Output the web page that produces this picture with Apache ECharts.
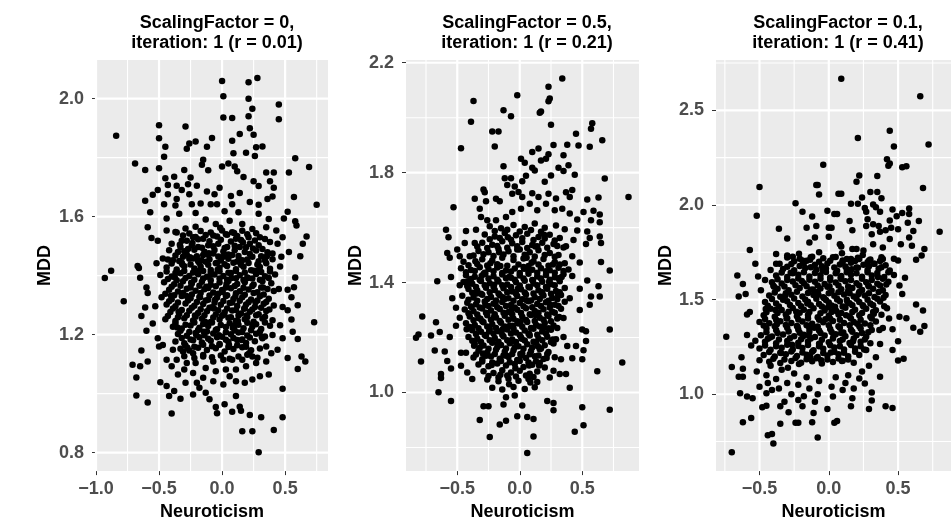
<!DOCTYPE html>
<html>
<head>
<meta charset="utf-8">
<script src="https://cdn.jsdelivr.net/npm/echarts@6/dist/echarts.min.js"></script>
<style>
  html, body { margin: 0; padding: 0; background: #fff; }
  #main { width: 952px; height: 526px; }
</style>
</head>
<body>
<div id="main"></div>
<script>
// panel titles
var panelTitles = [
    'ScalingFactor = 0,\niteration: 1 (r = 0.01)',
    'ScalingFactor = 0.5,\niteration: 1 (r = 0.21)',
    'ScalingFactor = 0.1,\niteration: 1 (r = 0.41)'
];

// Neuroticism / MDD pairs
var panelA = [
    [0.0,2.06],[0.21,2.056],[0.28,2.07],[0.01,2.008],[0.21,2.0],[0.45,1.98],[0.24,1.966],[0.45,1.93],[0.01,1.936],[0.08,1.934],[0.21,1.94],
    [-0.5,1.91],[-0.29,1.906],[0.22,1.9],[-0.84,1.874],[-0.5,1.866],[0.14,1.88],[0.25,1.878],[-0.08,1.867],[0.08,1.857],[-0.21,1.855],
    [-0.26,1.848],[-0.45,1.837],[-0.28,1.83],[-0.12,1.837],[0.32,1.838],[0.27,1.835],[0.26,1.806],[0.19,1.817],[0.09,1.815],[-0.46,1.803],
    [0.58,1.798],[-0.69,1.78],[-0.61,1.758],[0.69,1.768],[-0.5,1.764],[-0.3,1.758],[-0.15,1.793],[-0.16,1.776],[-0.11,1.757],[0.0,1.77],
    [0.05,1.78],[0.1,1.77],[0.12,1.754],[0.35,1.75],[0.41,1.75],[0.53,1.75],[0.38,1.72],[0.17,1.734],[0.25,1.72],[-0.25,1.733],[-0.45,1.73],
    [-0.38,1.735],[0.75,1.64],[0.57,1.667],[0.41,1.698],[0.29,1.704],[-0.02,1.698],[-0.43,1.707],[-0.36,1.705],[-0.51,1.69],[-0.55,1.674],
    [-0.61,1.654],[-0.57,1.615],[-0.43,1.676],[-0.36,1.66],[-0.32,1.69],[-0.27,1.71],[-0.2,1.705],[-0.26,1.676],[-0.24,1.642],[-0.12,1.685],
    [-0.06,1.676],[0.07,1.67],[0.14,1.68],[0.22,1.65],[0.29,1.64],[0.36,1.66],[0.4,1.668],[0.08,1.642],[-0.04,1.642],[-0.17,1.645],
    [-0.46,1.642],[-0.37,1.638],[-0.34,1.61],[-0.21,1.612],[-0.09,1.642],[0.02,1.618],[0.13,1.615],[0.29,1.61],[0.52,1.617],[0.49,1.594],
    [0.58,1.584],[0.37,1.592],[0.59,1.57],[-0.59,1.564],[-0.44,1.594],[-0.56,1.528],[-0.51,1.518],[0.67,1.533],[0.64,1.508],[0.62,1.466],
    [-0.29,1.56],[-0.21,1.566],[-0.36,1.546],[-0.44,1.553],[-0.13,1.59],[-0.05,1.575],[0.06,1.586],[0.16,1.575],[0.24,1.558],[0.35,1.564],
    [0.43,1.553],[0.48,1.53],[0.44,1.508],[0.38,1.514],[0.3,1.53],[0.2,1.54],[0.11,1.525],[0.03,1.54],[-0.07,1.536],[-0.15,1.525],
    [-0.23,1.53],[-0.32,1.518],[-0.4,1.508],[-0.42,1.486],[-0.35,1.48],[-0.27,1.49],[-0.19,1.497],[-0.11,1.503],[-0.03,1.508],[0.04,1.497],
    [0.14,1.497],[0.22,1.508],[0.32,1.49],[0.4,1.475],[0.47,1.464],[0.53,1.48],[-0.52,1.442],[-0.67,1.433],[-0.47,1.458],[-0.39,1.452],
    [-0.31,1.464],[-0.23,1.458],[-0.15,1.47],[-0.07,1.475],[0.01,1.464],[0.08,1.47],[0.16,1.452],[0.24,1.464],[0.34,1.452],[-0.13,1.447],[-0.05,1.442],
    [-0.37,1.548],[-0.26,1.543],[-0.17,1.551],[-0.09,1.546],[0.0,1.553],[0.08,1.547],[0.16,1.552],[0.27,1.544],
    [-0.28,1.518],[-0.19,1.523],[-0.1,1.517],[-0.01,1.522],[0.07,1.516],[0.15,1.521],[0.26,1.519],[0.34,1.524],
    [-0.3,1.483],[-0.22,1.488],[-0.14,1.481],[-0.06,1.487],[0.01,1.482],[0.1,1.486],[0.18,1.48],[0.27,1.485],[0.36,1.479],
    [-0.43,1.455],[-0.34,1.45],[-0.26,1.457],[-0.19,1.449],[-0.1,1.456],[-0.01,1.451],[0.05,1.457],[0.12,1.448],[0.2,1.455],[0.29,1.449],[0.4,1.456],
    [-0.44,1.428],[-0.36,1.421],[-0.3,1.432],[-0.22,1.424],[-0.17,1.43],[-0.09,1.419],[-0.02,1.427],[0.04,1.433],[0.11,1.422],[0.17,1.43],[0.23,1.418],[0.3,1.429],[0.38,1.423],[0.46,1.431],
    [-0.49,1.402],[-0.4,1.397],[-0.33,1.408],[-0.26,1.399],[-0.19,1.405],[-0.12,1.396],[-0.06,1.404],[0.01,1.399],[0.07,1.409],[0.14,1.401],[0.2,1.394],[0.27,1.406],[0.34,1.398],[0.42,1.404],
    [-0.46,1.378],[-0.38,1.371],[-0.31,1.381],[-0.24,1.373],[-0.16,1.379],[-0.09,1.369],[-0.02,1.377],[0.05,1.382],[0.12,1.372],[0.18,1.378],[0.25,1.37],[0.32,1.381],[0.39,1.374],
    [-0.42,1.352],[-0.35,1.346],[-0.28,1.356],[-0.21,1.349],[-0.14,1.354],[-0.07,1.343],[0.0,1.351],[0.07,1.357],[0.14,1.347],[0.21,1.353],[0.28,1.344],[0.36,1.355],[0.41,1.348],
    [-0.48,1.327],[-0.4,1.32],[-0.32,1.331],[-0.25,1.323],[-0.18,1.328],[-0.11,1.318],[-0.04,1.326],[0.03,1.331],[0.09,1.321],[0.16,1.327],[0.23,1.319],[0.3,1.33],[0.37,1.322],
    [-0.44,1.302],[-0.37,1.296],[-0.29,1.306],[-0.22,1.298],[-0.15,1.304],[-0.08,1.293],[-0.01,1.301],[0.06,1.307],[0.12,1.297],[0.19,1.302],[0.26,1.294],[0.33,1.305],[0.41,1.299],
    [-0.41,1.277],[-0.34,1.271],[-0.26,1.281],[-0.19,1.273],[-0.12,1.279],[-0.05,1.268],[0.02,1.276],[0.08,1.282],[0.15,1.272],[0.22,1.278],[0.29,1.269],[0.35,1.28],
    [-0.45,1.252],[-0.37,1.246],[-0.3,1.256],[-0.23,1.248],[-0.16,1.254],[-0.09,1.243],[-0.02,1.251],[0.05,1.257],[0.11,1.247],[0.18,1.252],[0.25,1.244],[0.32,1.255],[0.4,1.249],
    [-0.39,1.227],[-0.32,1.221],[-0.25,1.231],[-0.18,1.223],[-0.11,1.229],[-0.04,1.218],[0.03,1.226],[0.1,1.232],[0.17,1.222],[0.24,1.228],[0.31,1.219],[0.38,1.23],
    [-0.35,1.202],[-0.28,1.196],[-0.21,1.206],[-0.14,1.198],[-0.07,1.204],[0.0,1.193],[0.07,1.201],[0.13,1.207],[0.2,1.197],[0.27,1.203],[0.34,1.194],
    [-0.37,1.177],[-0.3,1.171],[-0.23,1.181],[-0.16,1.173],[-0.09,1.179],[-0.02,1.168],[0.05,1.176],[0.12,1.182],[0.19,1.172],[0.26,1.178],
    [-0.33,1.152],[-0.26,1.146],[-0.19,1.156],[-0.12,1.148],[-0.05,1.154],[0.02,1.143],[0.09,1.151],[0.16,1.157],[0.23,1.147],[0.3,1.153],
    [-0.3,1.127],[-0.22,1.121],[-0.15,1.131],[-0.08,1.123],[-0.01,1.129],[0.06,1.118],[0.13,1.126],[0.2,1.132],[0.28,1.122],
    [-0.31,1.536],[-0.21,1.531],[-0.13,1.538],[-0.04,1.533],[0.04,1.539],[0.12,1.534],[0.21,1.53],
    [-0.33,1.497],[-0.24,1.502],[-0.16,1.495],[-0.07,1.5],[0.02,1.494],[0.1,1.501],[0.19,1.496],[0.29,1.503],
    [-0.37,1.468],[-0.28,1.472],[-0.2,1.466],[-0.11,1.471],[-0.03,1.465],[0.05,1.472],[0.13,1.467],[0.22,1.473],[0.31,1.466],
    [-0.4,1.441],[-0.32,1.444],[-0.25,1.438],[-0.18,1.443],[-0.11,1.437],[-0.04,1.444],[0.02,1.439],[0.09,1.444],[0.15,1.437],[0.21,1.443],[0.28,1.438],[0.35,1.442],
    [-0.44,1.414],[-0.37,1.409],[-0.3,1.416],[-0.23,1.411],[-0.15,1.416],[-0.09,1.41],[-0.02,1.415],[0.05,1.41],[0.11,1.416],[0.18,1.411],[0.25,1.417],[0.31,1.412],[0.38,1.414],
    [-0.43,1.389],[-0.36,1.384],[-0.29,1.392],[-0.22,1.386],[-0.15,1.39],[-0.09,1.384],[-0.02,1.39],[0.04,1.386],[0.11,1.391],[0.17,1.385],[0.24,1.39],[0.3,1.386],[0.37,1.392],
    [-0.4,1.362],[-0.33,1.366],[-0.25,1.36],[-0.18,1.366],[-0.11,1.358],[-0.05,1.364],[0.03,1.36],[0.1,1.365],[0.17,1.359],[0.24,1.365],[0.31,1.36],
    [-0.45,1.339],[-0.38,1.334],[-0.31,1.341],[-0.24,1.336],[-0.17,1.341],[-0.1,1.333],[-0.03,1.339],[0.04,1.334],[0.11,1.34],[0.18,1.335],[0.25,1.341],[0.33,1.336],
    [-0.42,1.313],[-0.35,1.309],[-0.27,1.316],[-0.2,1.311],[-0.13,1.316],[-0.06,1.308],[0.01,1.314],[0.08,1.309],[0.14,1.315],[0.21,1.31],[0.28,1.316],[0.35,1.311],
    [-0.39,1.289],[-0.32,1.284],[-0.24,1.291],[-0.17,1.286],[-0.1,1.291],[-0.03,1.283],[0.04,1.289],[0.11,1.284],[0.18,1.29],[0.24,1.285],[0.31,1.291],
    [-0.43,1.263],[-0.35,1.259],[-0.28,1.266],[-0.21,1.261],[-0.14,1.266],[-0.07,1.258],[0.0,1.264],[0.07,1.259],[0.13,1.265],[0.2,1.26],[0.27,1.266],[0.34,1.261],
    [-0.37,1.239],[-0.29,1.234],[-0.22,1.241],[-0.15,1.236],[-0.08,1.241],[-0.01,1.233],[0.06,1.239],[0.13,1.234],[0.2,1.24],[0.27,1.235],[0.34,1.241],
    [-0.33,1.213],[-0.26,1.209],[-0.19,1.216],[-0.12,1.211],[-0.05,1.216],[0.03,1.208],[0.1,1.214],[0.16,1.209],[0.23,1.215],[0.3,1.21],
    [-0.32,1.189],[-0.25,1.184],[-0.18,1.191],[-0.11,1.186],[-0.04,1.191],[0.03,1.183],[0.09,1.189],[0.16,1.184],[0.22,1.19],
    [-0.29,1.163],[-0.22,1.159],[-0.15,1.166],[-0.08,1.161],[-0.02,1.166],[0.05,1.158],[0.12,1.164],[0.19,1.159],
    [-0.335,1.505],[-0.255,1.462],[-0.195,1.415],[-0.125,1.362],[-0.055,1.318],[0.015,1.268],[0.085,1.223],[0.155,1.182],[0.215,1.137],[0.285,1.418],
    [0.325,1.36],[0.265,1.31],[0.195,1.265],[0.135,1.455],[0.075,1.392],[0.005,1.345],[-0.065,1.289],[-0.135,1.244],[-0.205,1.199],[-0.275,1.156],
    [-0.345,1.278],[-0.405,1.332],[-0.375,1.395],[-0.315,1.438],[-0.245,1.376],[-0.175,1.327],[-0.105,1.476],[-0.035,1.42],[0.035,1.372],[0.105,1.329],
    [0.175,1.288],[0.245,1.235],[0.315,1.192],[0.375,1.285],[0.355,1.466],[0.245,1.492],[-0.145,1.21],[-0.215,1.265],[-0.285,1.332],[-0.355,1.224],
    [0.055,1.165],[-0.025,1.198],[0.125,1.246],[0.205,1.392],[-0.085,1.404],[-0.165,1.452],[-0.235,1.511],[0.165,1.513],[0.095,1.545],[-0.015,1.562],
    [-0.88,1.417],[-0.93,1.392],[-0.66,1.426],[-0.65,1.393],[-0.78,1.313],[-0.6,1.36],[-0.59,1.341],[-0.61,1.292],[-0.64,1.263],[-0.6,1.213],
    [-0.53,1.296],[-0.55,1.238],[-0.51,1.188],[-0.5,1.16],[-0.64,1.146],[-0.71,1.098],[-0.65,1.093],[-0.59,1.109],[-0.68,1.055],[-0.68,0.994],
    [-0.59,0.97],[-0.4,0.933],[-0.49,1.039],[-0.44,1.026],[-0.42,0.992],[-0.38,1.009],[-0.33,0.983],[-0.23,0.997],[-0.29,1.037],[-0.23,1.07],
    [-0.18,1.02],[-0.13,1.003],[-0.1,0.981],[-0.05,0.955],[-0.04,0.934],[0.02,0.964],[0.08,0.939],[0.11,0.992],[0.14,0.956],[0.15,0.942],
    [0.22,0.928],[0.31,0.92],[0.48,0.92],[0.48,1.017],[0.16,0.873],[0.24,0.873],[0.41,0.877],[0.29,0.801],[0.6,1.084],[0.6,1.185],
    [0.63,1.126],[0.66,1.109],[0.73,1.242],[0.6,1.3],[0.55,1.251],[0.58,1.394],[0.57,1.361],[0.52,1.352],[0.45,1.355],[0.55,1.327],
    [0.48,1.294],[0.52,1.283],[0.56,1.21],[0.46,1.232],[0.44,1.149],[0.52,1.121],[0.35,1.109],[0.37,1.065],[0.3,1.059],[0.24,1.048],
    [0.18,1.037],[0.11,1.042],[0.06,1.059],[0.01,1.031],[-0.07,1.042],[-0.15,1.054],[-0.2,1.037],[-0.3,1.082],[-0.35,1.065],[-0.4,1.093],
    [-0.44,1.115],[-0.36,1.115],[-0.28,1.104],[-0.21,1.104],[-0.13,1.087],[-0.05,1.076],[0.03,1.082],[0.11,1.082],[0.19,1.093],[0.27,1.104],
    [0.24,1.126],[0.16,1.115],[0.08,1.115],[0.01,1.115],[-0.07,1.109],[-0.15,1.126],[-0.23,1.137],[-0.31,1.143],[-0.39,1.149],[-0.47,1.165],
    [0.32,1.188],[0.4,1.199],[0.48,1.188],[0.39,1.137],[0.35,1.16]
];

var panelB = [
    [0.34,2.143],[0.23,2.113],[-0.02,2.082],[0.24,2.07],[0.23,2.06],[-0.37,2.061],[-0.13,2.027],[-0.07,2.005],[0.16,2.018],[0.17,2.023],
    [-0.39,1.985],[0.25,1.974],[-0.22,1.95],[-0.17,1.95],[0.58,1.98],[0.57,1.96],[0.45,1.942],[0.66,1.918],[-0.47,1.889],[-0.2,1.895],
    [0.27,1.901],[0.38,1.902],[0.47,1.899],[0.56,1.894],[0.1,1.875],[0.15,1.888],[0.23,1.867],[0.35,1.863],[0.01,1.851],[0.04,1.836],
    [-0.13,1.823],[0.1,1.818],[0.12,1.808],[0.17,1.844],[0.21,1.851],[0.31,1.818],[0.35,1.806],[0.39,1.827],[0.68,1.779],[0.87,1.711],
    [0.44,1.792],[0.25,1.79],[0.2,1.767],[0.02,1.769],[-0.04,1.75],[-0.1,1.755],[-0.12,1.78],[-0.07,1.78],[0.05,1.789],[-0.29,1.739],
    [-0.28,1.729],[-0.36,1.705],[-0.27,1.696],[-0.53,1.674],[-0.19,1.705],[-0.16,1.696],[-0.06,1.723],[-0.01,1.73],[0.02,1.711],[0.1,1.725],
    [0.15,1.711],[0.23,1.723],[0.29,1.706],[0.37,1.729],[0.42,1.737],[0.4,1.711],[0.54,1.702],[0.63,1.71],[0.59,1.661],[0.64,1.648],
    [0.64,1.62],[0.57,1.627],[0.51,1.657],[0.46,1.63],[0.4,1.651],[0.34,1.669],[0.28,1.663],[0.21,1.687],[0.14,1.663],[0.08,1.687],
    [0.01,1.669],[-0.06,1.657],[-0.32,1.669],[-0.31,1.639],[-0.26,1.627],[-0.19,1.627],[-0.11,1.639],[-0.59,1.592],[-0.57,1.565],[-0.43,1.588],
    [-0.35,1.592],[0.54,1.586],[0.56,1.562],[0.64,1.568],[0.65,1.544],[0.53,1.54],[-0.58,1.508],[-0.56,1.49],[-0.48,1.496],[-0.4,1.496],
    [-0.44,1.544],[-0.36,1.544],[0.65,1.475],[0.48,1.473],[0.42,1.496],[0.37,1.532],
    [-0.24,1.605],[-0.15,1.598],[-0.05,1.61],[0.04,1.602],[0.12,1.615],[0.2,1.6],[0.29,1.608],[0.36,1.594],[0.46,1.59],
    [-0.28,1.575],[-0.2,1.568],[-0.12,1.58],[-0.03,1.572],[0.06,1.578],[0.15,1.566],[0.24,1.574],[0.32,1.562],[0.43,1.555],
    [-0.3,1.545],[-0.22,1.538],[-0.14,1.55],[-0.06,1.543],[0.02,1.548],[0.1,1.537],[0.18,1.545],[0.27,1.54],[0.35,1.528],
    [-0.5,1.52],[-0.33,1.515],[-0.25,1.51],[-0.17,1.522],[-0.09,1.514],[0.0,1.52],[0.08,1.51],[0.15,1.518],[0.24,1.508],[0.31,1.5],
    [-0.45,1.476],[-0.3,1.485],[-0.22,1.48],[-0.14,1.49],[-0.05,1.482],[0.03,1.488],[0.11,1.478],[0.19,1.486],[0.28,1.475],[0.36,1.47],
    [-0.47,1.452],[-0.39,1.446],[-0.32,1.456],[-0.25,1.449],[-0.18,1.455],[-0.11,1.444],[-0.04,1.451],[0.03,1.457],[0.1,1.447],[0.17,1.452],[0.24,1.445],[0.31,1.454],[0.39,1.448],
    [-0.43,1.427],[-0.36,1.421],[-0.29,1.431],[-0.21,1.423],[-0.14,1.429],[-0.07,1.418],[0.0,1.426],[0.07,1.432],[0.14,1.422],[0.21,1.428],[0.28,1.419],[0.35,1.43],[0.42,1.424],
    [-0.45,1.402],[-0.38,1.396],[-0.31,1.406],[-0.24,1.398],[-0.17,1.404],[-0.1,1.393],[-0.03,1.401],[0.04,1.407],[0.11,1.397],[0.18,1.403],[0.25,1.394],[0.32,1.405],
    [-0.41,1.377],[-0.34,1.371],[-0.27,1.381],[-0.2,1.373],[-0.13,1.379],[-0.06,1.368],[0.01,1.376],[0.08,1.382],[0.15,1.372],[0.22,1.378],[0.29,1.369],[0.36,1.38],
    [-0.46,1.352],[-0.37,1.346],[-0.3,1.356],[-0.23,1.348],[-0.16,1.354],[-0.09,1.343],[-0.02,1.351],[0.05,1.357],[0.12,1.347],[0.19,1.353],[0.26,1.344],[0.33,1.355],
    [-0.42,1.327],[-0.35,1.321],[-0.28,1.331],[-0.21,1.323],[-0.14,1.329],[-0.07,1.318],[0.0,1.326],[0.07,1.332],[0.14,1.322],[0.21,1.328],[0.28,1.319],[0.36,1.33],
    [-0.44,1.302],[-0.37,1.296],[-0.3,1.306],[-0.23,1.298],[-0.16,1.304],[-0.09,1.293],[-0.02,1.301],[0.05,1.307],[0.12,1.297],[0.19,1.303],[0.26,1.294],[0.33,1.305],
    [-0.4,1.277],[-0.33,1.271],[-0.26,1.281],[-0.19,1.273],[-0.12,1.279],[-0.05,1.268],[0.02,1.276],[0.09,1.282],[0.16,1.272],[0.23,1.278],[0.3,1.269],
    [-0.43,1.252],[-0.36,1.246],[-0.29,1.256],[-0.22,1.248],[-0.15,1.254],[-0.08,1.243],[-0.01,1.251],[0.06,1.257],[0.13,1.247],[0.2,1.253],[0.27,1.244],
    [-0.38,1.227],[-0.31,1.221],[-0.24,1.231],[-0.17,1.223],[-0.1,1.229],[-0.03,1.218],[0.04,1.226],[0.11,1.232],[0.18,1.222],[0.25,1.228],
    [-0.41,1.202],[-0.34,1.196],[-0.27,1.206],[-0.2,1.198],[-0.13,1.204],[-0.06,1.193],[0.01,1.201],[0.08,1.207],[0.15,1.197],[0.22,1.203],[0.29,1.194],
    [-0.36,1.177],[-0.29,1.171],[-0.22,1.181],[-0.15,1.173],[-0.08,1.179],[-0.01,1.168],[0.06,1.176],[0.13,1.182],[0.2,1.172],[0.27,1.178],
    [-0.33,1.152],[-0.26,1.146],[-0.19,1.156],[-0.12,1.148],[-0.05,1.154],[0.02,1.143],[0.09,1.151],[0.16,1.157],[0.23,1.147],
    [-0.37,1.127],[-0.3,1.121],[-0.23,1.131],[-0.16,1.123],[-0.09,1.129],[-0.02,1.118],[0.05,1.126],[0.12,1.132],[0.19,1.122],[0.28,1.128],
    [-0.33,1.102],[-0.25,1.096],[-0.18,1.106],[-0.11,1.098],[-0.04,1.104],[0.03,1.093],[0.1,1.101],[0.16,1.107],
    [-0.29,1.077],[-0.21,1.071],[-0.14,1.081],[-0.07,1.073],[0.0,1.079],[0.08,1.068],[0.14,1.076],
    [-0.26,1.047],[-0.17,1.041],[-0.09,1.05],[-0.01,1.043],[0.07,1.049],[0.14,1.038],
    [-0.22,1.017],[-0.14,1.011],[-0.05,1.02],[0.04,1.013],[0.12,1.019],
    [-0.2,1.588],[-0.1,1.592],[0.0,1.586],[0.09,1.591],[0.17,1.585],
    [-0.24,1.558],[-0.16,1.562],[-0.07,1.556],[0.02,1.561],[0.11,1.555],[0.2,1.56],[0.28,1.553],
    [-0.34,1.531],[-0.26,1.526],[-0.18,1.533],[-0.1,1.527],[-0.02,1.532],[0.06,1.526],[0.14,1.532],[0.22,1.527],[0.3,1.533],
    [-0.37,1.499],[-0.29,1.503],[-0.21,1.497],[-0.13,1.502],[-0.05,1.496],[0.04,1.501],[0.12,1.495],[0.2,1.5],[0.28,1.494],
    [-0.41,1.463],[-0.34,1.468],[-0.26,1.462],[-0.18,1.467],[-0.1,1.461],[-0.01,1.466],[0.07,1.46],[0.15,1.466],[0.23,1.461],[0.32,1.466],
    [-0.43,1.438],[-0.36,1.442],[-0.28,1.436],[-0.21,1.441],[-0.14,1.435],[-0.07,1.44],[0.0,1.435],[0.07,1.441],[0.14,1.436],[0.21,1.441],[0.28,1.436],[0.35,1.442],
    [-0.39,1.413],[-0.32,1.409],[-0.25,1.415],[-0.18,1.41],[-0.11,1.416],[-0.04,1.41],[0.03,1.415],[0.1,1.409],[0.17,1.415],[0.24,1.41],[0.31,1.416],
    [-0.42,1.388],[-0.35,1.384],[-0.28,1.39],[-0.21,1.385],[-0.14,1.39],[-0.07,1.384],[0.0,1.389],[0.07,1.385],[0.14,1.39],[0.21,1.384],[0.28,1.39],
    [-0.38,1.363],[-0.31,1.359],[-0.24,1.365],[-0.17,1.36],[-0.1,1.365],[-0.03,1.359],[0.04,1.364],[0.11,1.36],[0.18,1.365],[0.25,1.359],[0.32,1.365],
    [-0.41,1.338],[-0.34,1.334],[-0.26,1.34],[-0.19,1.335],[-0.12,1.34],[-0.05,1.334],[0.02,1.339],[0.09,1.335],[0.16,1.34],[0.23,1.334],[0.3,1.339],
    [-0.39,1.313],[-0.32,1.309],[-0.25,1.315],[-0.18,1.31],[-0.11,1.315],[-0.04,1.309],[0.03,1.314],[0.1,1.31],[0.17,1.315],[0.24,1.309],[0.31,1.315],
    [-0.41,1.288],[-0.34,1.284],[-0.27,1.29],[-0.2,1.285],[-0.13,1.29],[-0.06,1.284],[0.01,1.289],[0.08,1.285],[0.15,1.29],[0.22,1.284],[0.28,1.29],
    [-0.37,1.263],[-0.3,1.259],[-0.23,1.265],[-0.16,1.26],[-0.09,1.265],[-0.02,1.259],[0.05,1.264],[0.12,1.26],[0.19,1.265],[0.25,1.259],
    [-0.4,1.238],[-0.33,1.234],[-0.26,1.24],[-0.19,1.235],[-0.12,1.24],[-0.05,1.234],[0.02,1.239],[0.09,1.235],[0.16,1.24],[0.23,1.234],
    [-0.35,1.213],[-0.28,1.209],[-0.21,1.215],[-0.14,1.21],[-0.07,1.215],[0.0,1.209],[0.07,1.214],[0.14,1.21],[0.21,1.215],
    [-0.38,1.188],[-0.31,1.184],[-0.24,1.19],[-0.17,1.185],[-0.1,1.19],[-0.03,1.184],[0.04,1.189],[0.11,1.185],[0.18,1.19],[0.25,1.184],
    [-0.32,1.163],[-0.25,1.159],[-0.18,1.165],[-0.11,1.16],[-0.04,1.165],[0.03,1.159],[0.1,1.164],[0.17,1.16],
    [-0.35,1.138],[-0.27,1.134],[-0.2,1.14],[-0.13,1.135],[-0.06,1.14],[0.01,1.134],[0.08,1.139],[0.15,1.135],[0.22,1.14],
    [-0.3,1.113],[-0.22,1.109],[-0.15,1.115],[-0.08,1.11],[0.0,1.115],[0.07,1.109],[0.13,1.114],
    [-0.25,1.06],[-0.17,1.055],[-0.1,1.062],[-0.03,1.058],[0.05,1.062],[0.11,1.056],
    [-0.355,1.478],[-0.275,1.432],[-0.205,1.392],[-0.135,1.347],[-0.065,1.302],[0.005,1.256],[0.075,1.214],[0.145,1.168],[0.215,1.126],[-0.385,1.311],
    [-0.315,1.268],[-0.245,1.222],[-0.175,1.178],[-0.105,1.134],[-0.035,1.088],[0.035,1.45],[0.105,1.408],[0.175,1.362],[0.245,1.318],[0.315,1.275],
    [-0.415,1.405],[-0.345,1.36],[-0.275,1.319],[-0.205,1.275],[-0.135,1.231],[-0.065,1.186],[0.005,1.14],[0.075,1.098],[-0.02,1.52],[-0.095,1.565],
    [0.055,1.49],[0.125,1.531],[0.195,1.574],[-0.165,1.51],[-0.235,1.47],[-0.305,1.424],[0.265,1.466],[0.335,1.42],[0.125,1.282],[0.055,1.336],
    [-0.015,1.378],[-0.085,1.42],[-0.155,1.46],[0.195,1.236],[0.265,1.193],[-0.225,1.1],[-0.155,1.065],[-0.085,1.03],[0.085,1.036],[-0.425,1.23],
    [-0.365,1.17],[-0.295,1.142],[0.235,1.402],[0.305,1.356],[0.095,1.472],[-0.055,1.243],[-0.195,1.325],[0.015,1.196],[0.155,1.098],
    [-0.55,1.42],[-0.48,1.39],[-0.54,1.343],[-0.51,1.308],[-0.48,1.272],[-0.51,1.243],
    [-0.66,1.405],[-0.78,1.277],[-0.67,1.256],[-0.81,1.211],[-0.83,1.199],[-0.71,1.207],[-0.64,1.22],[-0.56,1.202],[-0.79,1.113],[-0.68,1.153],
    [-0.6,1.149],[-0.58,1.115],[-0.55,1.087],[-0.63,1.067],[-0.63,1.053],[-0.65,1.001],[-0.55,0.969],[-0.47,1.145],[-0.43,1.145],[-0.47,1.097],
    [-0.42,1.073],[-0.38,1.049],[-0.29,0.95],[-0.25,0.95],[-0.32,0.9],[-0.24,0.838],[-0.16,0.884],[-0.11,0.897],[-0.02,0.914],[-0.13,0.956],
    [-0.11,0.983],[-0.04,0.989],[0.02,0.953],[0.06,0.911],[0.11,0.904],[0.11,0.84],[0.06,0.78],[0.22,0.969],[0.27,0.962],[0.27,0.935],
    [0.4,1.017],[0.5,0.946],[0.44,0.857],[0.51,0.881],[0.72,0.937],[0.82,1.109],[0.62,1.077],[0.72,1.229],[0.53,1.187],[0.51,1.154],
    [0.5,1.121],[0.42,1.125],[0.45,1.169],[0.38,1.169],[0.35,1.202],[0.33,1.121],[0.37,1.067],[0.32,1.067],[0.27,1.079],[0.24,1.055],
    [0.2,1.091],[0.5,1.229],[0.53,1.223],[0.48,1.3],[0.56,1.319],[0.64,1.349],[0.63,1.387],[0.54,1.408],[0.72,1.444],[0.57,1.349],
    [0.48,1.378],[0.4,1.343],[0.35,1.271],[0.3,1.235]
];

var panelC = [
    [0.09,2.667],[0.66,2.575],[0.21,2.354],[0.44,2.392],[0.47,2.309],[0.72,2.319],[-0.04,2.212],[0.42,2.241],[0.44,2.219],[0.43,2.207],
    [0.53,2.2],[0.56,2.205],[0.22,2.156],[0.2,2.123],[0.35,2.153],[-0.5,2.095],[-0.09,2.106],[-0.08,2.106],[-0.07,2.056],[0.07,2.059],
    [0.09,2.059],[0.24,2.04],[0.3,2.069],[0.35,2.069],[0.38,2.036],[0.68,2.09],[-0.24,2.009],[-0.52,1.943],[-0.19,1.964],[-0.12,1.939],
    [-0.01,1.97],[0.04,1.953],[0.06,1.953],[0.16,2.007],[0.21,2.007],[0.26,1.984],[0.27,1.964],[0.32,2.002],[0.34,1.988],[0.37,1.964],
    [0.46,1.976],[0.58,1.981],[0.58,1.953],[0.53,1.958],[0.49,1.941],[0.8,1.859],[-0.36,1.875],[-0.3,1.823],[-0.16,1.88],[-0.09,1.889],
    [0.0,1.88],[0.02,1.88],[0.15,1.915],[0.17,1.866],[0.28,1.925],[0.27,1.889],[0.32,1.898],[0.36,1.889],[0.31,1.845],[0.37,1.859],
    [0.41,1.866],[0.44,1.918],[0.45,1.88],[0.5,1.872],[0.57,1.906],[0.65,1.915],[0.61,1.863],[0.58,1.828],[0.6,1.785],[-0.57,1.762],
    [-0.14,1.802],[-0.1,1.828],[0.0,1.832],[0.08,1.793],[0.09,1.78],[0.17,1.767],[0.2,1.767],[0.25,1.759],[0.32,1.793],[0.39,1.776],
    [0.44,1.82],[0.52,1.793],[0.69,1.767],[0.67,1.733],[0.63,1.71],[-0.38,1.741],[-0.3,1.733],[-0.26,1.727],[-0.19,1.707],[-0.13,1.724],
    [-0.07,1.75],[0.03,1.724],[0.1,1.707],[0.16,1.715],[0.22,1.715],[0.29,1.707],[0.39,1.715],[0.5,1.707],[-0.53,1.689],[-0.38,1.689],
    [-0.3,1.722],[-0.21,1.716],[-0.12,1.727],[-0.04,1.718],[0.05,1.725],[0.13,1.714],[0.21,1.721],[0.3,1.712],[0.38,1.724],[0.47,1.716],
    [-0.27,1.688],[-0.18,1.694],[-0.1,1.684],[-0.01,1.691],[0.08,1.686],[0.16,1.695],[0.25,1.684],[0.33,1.69],[0.41,1.682],
    [-0.33,1.662],[-0.25,1.655],[-0.17,1.667],[-0.09,1.658],[-0.02,1.664],[0.06,1.652],[0.13,1.661],[0.21,1.668],[0.28,1.656],[0.36,1.663],[0.44,1.654],
    [-0.38,1.627],[-0.3,1.62],[-0.22,1.631],[-0.14,1.622],[-0.06,1.629],[0.01,1.617],[0.09,1.625],[0.16,1.632],[0.24,1.621],[0.31,1.627],[0.4,1.619],[0.47,1.63],
    [-0.41,1.592],[-0.34,1.585],[-0.26,1.596],[-0.18,1.587],[-0.1,1.594],[-0.03,1.582],[0.05,1.59],[0.12,1.597],[0.2,1.586],[0.27,1.592],[0.35,1.584],[0.43,1.595],
    [-0.37,1.557],[-0.29,1.55],[-0.21,1.561],[-0.13,1.552],[-0.06,1.559],[0.02,1.547],[0.09,1.555],[0.17,1.562],[0.24,1.551],[0.32,1.557],[0.39,1.549],
    [-0.43,1.522],[-0.35,1.515],[-0.27,1.526],[-0.19,1.517],[-0.11,1.524],[-0.04,1.512],[0.04,1.52],[0.11,1.527],[0.18,1.516],[0.26,1.522],[0.33,1.514],[0.41,1.525],
    [-0.46,1.487],[-0.38,1.48],[-0.3,1.491],[-0.22,1.482],[-0.15,1.489],[-0.07,1.477],[0.0,1.485],[0.08,1.492],[0.15,1.481],[0.22,1.487],[0.3,1.479],[0.37,1.49],
    [-0.42,1.452],[-0.34,1.445],[-0.26,1.456],[-0.18,1.447],[-0.11,1.454],[-0.03,1.442],[0.04,1.45],[0.12,1.457],[0.19,1.446],[0.27,1.452],[0.34,1.444],[0.42,1.455],
    [-0.47,1.417],[-0.39,1.41],[-0.31,1.421],[-0.23,1.412],[-0.15,1.419],[-0.08,1.407],[0.0,1.415],[0.07,1.422],[0.15,1.411],[0.22,1.417],[0.3,1.409],[0.38,1.42],
    [-0.5,1.382],[-0.43,1.375],[-0.35,1.386],[-0.27,1.377],[-0.19,1.384],[-0.12,1.372],[-0.04,1.38],[0.03,1.387],[0.11,1.376],[0.18,1.382],[0.26,1.374],[0.34,1.385],
    [-0.45,1.347],[-0.38,1.34],[-0.3,1.351],[-0.22,1.342],[-0.14,1.349],[-0.07,1.337],[0.01,1.345],[0.08,1.352],[0.16,1.341],[0.23,1.347],[0.31,1.339],[0.39,1.35],
    [-0.49,1.312],[-0.41,1.305],[-0.33,1.316],[-0.25,1.307],[-0.18,1.314],[-0.1,1.302],[-0.03,1.31],[0.05,1.317],[0.12,1.306],[0.2,1.312],[0.27,1.304],
    [-0.46,1.277],[-0.38,1.27],[-0.3,1.281],[-0.22,1.272],[-0.15,1.279],[-0.07,1.267],[0.0,1.275],[0.08,1.282],[0.15,1.271],[0.23,1.277],[0.3,1.269],
    [-0.5,1.242],[-0.42,1.235],[-0.34,1.246],[-0.26,1.237],[-0.19,1.244],[-0.11,1.232],[-0.04,1.24],[0.04,1.247],[0.11,1.236],[0.19,1.242],[0.27,1.234],
    [-0.47,1.207],[-0.39,1.2],[-0.31,1.211],[-0.23,1.202],[-0.16,1.209],[-0.08,1.197],[-0.01,1.205],[0.07,1.212],[0.14,1.201],[0.22,1.207],
    [-0.43,1.172],[-0.35,1.165],[-0.27,1.176],[-0.2,1.167],[-0.12,1.174],[-0.05,1.162],[0.03,1.17],[0.1,1.177],[0.18,1.166],
    [-0.25,1.703],[-0.16,1.706],[-0.07,1.7],[0.01,1.705],[0.1,1.699],[0.19,1.704],[0.28,1.698],[0.37,1.704],
    [-0.3,1.674],[-0.21,1.677],[-0.13,1.671],[-0.05,1.676],[0.04,1.67],[0.12,1.675],[0.2,1.67],[0.29,1.676],[0.38,1.671],
    [-0.34,1.643],[-0.26,1.639],[-0.18,1.645],[-0.1,1.64],[-0.02,1.646],[0.05,1.639],[0.13,1.644],[0.2,1.639],[0.28,1.645],[0.35,1.64],[0.43,1.645],
    [-0.37,1.608],[-0.3,1.604],[-0.22,1.611],[-0.14,1.605],[-0.06,1.61],[0.01,1.603],[0.09,1.609],[0.16,1.604],[0.24,1.61],[0.31,1.604],[0.39,1.61],
    [-0.4,1.573],[-0.32,1.569],[-0.24,1.576],[-0.16,1.57],[-0.08,1.575],[-0.01,1.568],[0.07,1.574],[0.14,1.569],[0.22,1.575],[0.29,1.569],[0.37,1.575],
    [-0.39,1.538],[-0.31,1.534],[-0.23,1.541],[-0.15,1.535],[-0.08,1.54],[0.0,1.533],[0.07,1.539],[0.15,1.534],[0.22,1.54],[0.29,1.534],[0.36,1.54],
    [-0.41,1.503],[-0.33,1.499],[-0.25,1.506],[-0.17,1.5],[-0.09,1.505],[-0.02,1.498],[0.06,1.504],[0.13,1.499],[0.2,1.505],[0.28,1.499],[0.35,1.505],
    [-0.44,1.468],[-0.36,1.464],[-0.28,1.471],[-0.2,1.465],[-0.13,1.47],[-0.05,1.463],[0.02,1.469],[0.1,1.464],[0.17,1.47],[0.25,1.464],[0.32,1.47],[0.4,1.465],
    [-0.45,1.433],[-0.37,1.429],[-0.29,1.436],[-0.21,1.43],[-0.14,1.435],[-0.06,1.428],[0.02,1.434],[0.09,1.429],[0.17,1.435],[0.24,1.429],[0.32,1.435],
    [-0.46,1.398],[-0.38,1.394],[-0.3,1.401],[-0.22,1.395],[-0.15,1.4],[-0.07,1.393],[0.01,1.399],[0.08,1.394],[0.16,1.4],[0.23,1.394],[0.31,1.4],
    [-0.47,1.363],[-0.39,1.359],[-0.31,1.366],[-0.23,1.36],[-0.16,1.365],[-0.08,1.358],[0.0,1.364],[0.07,1.359],[0.15,1.365],[0.22,1.359],[0.3,1.365],
    [-0.45,1.328],[-0.37,1.324],[-0.29,1.331],[-0.21,1.325],[-0.14,1.33],[-0.06,1.323],[0.02,1.329],[0.09,1.324],[0.17,1.33],[0.24,1.324],
    [-0.44,1.293],[-0.36,1.289],[-0.28,1.296],[-0.2,1.29],[-0.13,1.295],[-0.05,1.288],[0.03,1.294],[0.1,1.289],[0.18,1.295],[0.26,1.289],
    [-0.46,1.258],[-0.38,1.254],[-0.3,1.261],[-0.22,1.255],[-0.15,1.26],[-0.07,1.253],[0.01,1.259],[0.08,1.254],[0.16,1.26],[0.23,1.254],
    [-0.43,1.223],[-0.35,1.219],[-0.27,1.226],[-0.19,1.22],[-0.12,1.225],[-0.04,1.218],[0.04,1.224],[0.11,1.219],[0.19,1.225],
    [-0.4,1.188],[-0.32,1.184],[-0.24,1.191],[-0.16,1.185],[-0.09,1.19],[-0.01,1.183],[0.07,1.189],[0.14,1.184],
    [-0.355,1.69],[-0.275,1.642],[-0.195,1.598],[-0.115,1.553],[-0.035,1.508],[0.045,1.462],[0.125,1.418],[0.205,1.372],[0.285,1.328],[0.355,1.62],
    [0.285,1.575],[0.215,1.53],[0.135,1.486],[0.055,1.44],[-0.025,1.396],[-0.105,1.352],[-0.185,1.306],[-0.265,1.262],[-0.345,1.218],[-0.425,1.3],
    [-0.385,1.445],[-0.305,1.4],[-0.225,1.356],[-0.145,1.31],[-0.065,1.265],[0.015,1.22],[0.095,1.176],[0.165,1.66],[0.085,1.615],[0.005,1.57],
    [-0.075,1.526],[-0.155,1.48],[-0.235,1.436],[-0.315,1.52],[-0.395,1.568],[0.245,1.47],[0.325,1.426],[0.395,1.51],[0.415,1.58],[0.325,1.69],
    [0.245,1.736],[0.095,1.745],[-0.045,1.656],[-0.135,1.71],[-0.215,1.742],[0.175,1.28],[0.255,1.236],[0.105,1.326],[0.035,1.31],[-0.055,1.18],
    [-0.135,1.2],[-0.215,1.16],[-0.295,1.14],[-0.375,1.37],[-0.455,1.45],[0.435,1.4],[0.365,1.34],[0.06,1.5],[0.14,1.545],[-0.005,1.46],
    [-0.52,1.12],[-0.45,1.1],[-0.38,1.08],[-0.3,1.06],[-0.22,1.05],[-0.14,1.03],[-0.44,1.06],[-0.36,1.03],[-0.27,1.0],[-0.18,0.99],
    [-0.08,1.0],[-0.32,0.96],[-0.22,0.97],[-0.1,0.96],[0.02,1.04],[0.12,1.06],[0.18,1.03],[-0.5,1.18],[-0.42,1.15],[-0.34,1.13],
    [-0.25,1.11],[-0.16,1.09],[-0.07,1.07],[0.05,1.09],[0.14,1.1],[0.24,1.12],[0.29,1.15],
    [-0.7,0.693],[-0.74,1.304],[-0.7,1.144],[-0.62,0.852],[-0.56,0.875],[-0.44,0.783],[-0.41,0.79],[-0.4,0.74],[-0.08,0.771],[-0.35,0.844],
    [-0.24,0.849],[-0.22,0.849],[-0.12,0.852],[0.04,0.849],[0.06,0.859],[-0.48,0.931],[-0.45,0.939],[-0.35,0.936],[-0.29,0.905],[-0.19,0.936],
    [-0.11,0.901],[-0.01,0.922],[0.16,0.936],[0.17,0.979],[0.29,0.922],[0.31,0.967],[0.41,0.936],[0.46,0.927],[-0.64,1.005],[-0.59,0.988],
    [-0.55,0.979],[-0.65,1.092],[-0.62,1.092],[-0.62,1.135],[-0.63,1.196],[-0.59,1.313],[-0.66,1.627],[-0.62,1.583],[-0.65,1.517],[-0.6,1.53],
    [-0.59,1.422],[-0.57,1.434],[-0.56,1.257],[-0.53,1.283],[-0.49,1.549],[-0.46,1.604],[-0.51,1.622],[-0.42,1.656],[-0.5,1.04],[-0.45,1.005],
    [-0.41,1.023],[0.54,1.188],[0.5,1.179],[0.46,1.234],[0.5,1.28],[0.51,1.41],[0.56,1.401],[0.61,1.352],[0.66,1.33],[0.69,1.361],
    [0.68,1.443],[0.63,1.474],[0.55,1.616],[0.53,1.53],[0.51,1.575],[0.46,1.344],[0.37,1.266],[0.34,1.196],[0.37,1.092],[0.31,1.009],
    [0.26,1.057],[0.22,1.083],[0.03,0.988],[0.1,1.023]
];

// axis ranges and tick values per panel
var xRanges = [[-1.0, 0.84], [-0.91, 0.954], [-0.814, 0.882]];
var yRanges = [[0.7375, 2.131], [0.714, 2.21], [0.594, 2.766]];
var xMajor = [[-1.0, -0.5, 0, 0.5], [-0.5, 0, 0.5], [-0.5, 0, 0.5]];
var xMinor = [[-0.75, -0.25, 0.25, 0.75], [-0.75, -0.25, 0.25, 0.75], [-0.75, -0.25, 0.25, 0.75]];
var yMajor = [[0.8, 1.2, 1.6, 2.0], [1.0, 1.4, 1.8, 2.2], [1.0, 1.5, 2.0, 2.5]];
var yMinor = [[1.0, 1.4, 1.8], [0.8, 1.2, 1.6, 2.0], [0.75, 1.25, 1.75, 2.25, 2.75]];

var panels = [panelA, panelB, panelC];
var boxes = [
    { left: 96, top: 60, width: 232, height: 417, center: 212, nameGap: 42 },
    { left: 406, top: 60, width: 233, height: 417, center: 522, nameGap: 38 },
    { left: 716, top: 60, width: 235, height: 417, center: 833, nameGap: 36 }
];

var fontFamily = '"Liberation Sans", Arial, sans-serif';

function tickText(v) {
    return (v < 0 ? '\u2212' : '') + Math.abs(v).toFixed(1);
}

// grid line items: [value, kind]; kind 0/1 = vertical major/minor, 2/3 = horizontal major/minor
function gridLineItems(i) {
    var items = [];
    xMajor[i].forEach(function (v) { items.push([v, 0]); });
    xMinor[i].forEach(function (v) { items.push([v, 1]); });
    yMajor[i].forEach(function (v) { items.push([v, 2]); });
    yMinor[i].forEach(function (v) { items.push([v, 3]); });
    return items;
}

function makeGridRenderer(i) {
    return function (params, api) {
        var v = api.value(0);
        var kind = api.value(1);
        var a, b;
        if (kind < 2) {
            a = api.coord([v, yRanges[i][0]]);
            b = api.coord([v, yRanges[i][1]]);
        } else {
            a = api.coord([xRanges[i][0], v]);
            b = api.coord([xRanges[i][1], v]);
        }
        return {
            type: 'line',
            shape: { x1: a[0], y1: a[1], x2: b[0], y2: b[1] },
            style: { stroke: '#ffffff', lineWidth: (kind % 2 === 0) ? 2.2 : 1.1 }
        };
    };
}

var option = {
    animation: false,
    textStyle: { fontFamily: fontFamily },
    title: [],
    grid: [],
    xAxis: [],
    yAxis: [],
    series: []
};

panels.forEach(function (pts, i) {
    var box = boxes[i];
    var nameStyle = { fontFamily: fontFamily, fontSize: 18, fontWeight: 'bold', color: '#000' };
    var labelStyle = { fontSize: 18, fontWeight: 'bold', color: '#4d4d4d', formatter: tickText };

    option.title.push({
        text: panelTitles[i],
        left: box.center,
        top: 8,
        textAlign: 'center',
        textStyle: { fontFamily: fontFamily, fontSize: 18, fontWeight: 'bold', color: '#000', lineHeight: 20 }
    });
    option.grid.push({
        left: box.left, top: box.top, width: box.width, height: box.height,
        show: true, backgroundColor: '#ebebeb', borderWidth: 0
    });
    option.xAxis.push({
        type: 'value', gridIndex: i,
        min: xRanges[i][0], max: xRanges[i][1],
        name: 'Neuroticism', nameLocation: 'middle', nameGap: 30, nameTextStyle: nameStyle,
        axisLine: { show: false, onZero: false },
        axisTick: { show: true, length: 4, customValues: xMajor[i], lineStyle: { color: '#333', width: 1 } },
        axisLabel: Object.assign({ customValues: xMajor[i], margin: 9 }, labelStyle),
        splitLine: { show: false }
    });
    option.yAxis.push({
        type: 'value', gridIndex: i,
        min: yRanges[i][0], max: yRanges[i][1],
        name: 'MDD', nameLocation: 'middle', nameGap: box.nameGap, nameRotate: 90, nameTextStyle: nameStyle,
        axisLine: { show: false, onZero: false },
        axisTick: { show: true, length: 4, customValues: yMajor[i], lineStyle: { color: '#333', width: 1 } },
        axisLabel: Object.assign({ customValues: yMajor[i], margin: 12 }, labelStyle),
        splitLine: { show: false }
    });

    // white ggplot grid lines, drawn through the axes' own scales
    option.series.push({
        type: 'custom', xAxisIndex: i, yAxisIndex: i, z: 1, silent: true,
        renderItem: makeGridRenderer(i),
        data: gridLineItems(i)
    });
    option.series.push({
        type: 'scatter', xAxisIndex: i, yAxisIndex: i, z: 3,
        symbolSize: 6.5,
        itemStyle: { color: '#000', opacity: 1 },
        emphasis: { disabled: true },
        data: pts
    });
});

var chart = echarts.init(document.getElementById('main'), null, { renderer: 'canvas' });
chart.setOption(option);
</script>
</body>
</html>
